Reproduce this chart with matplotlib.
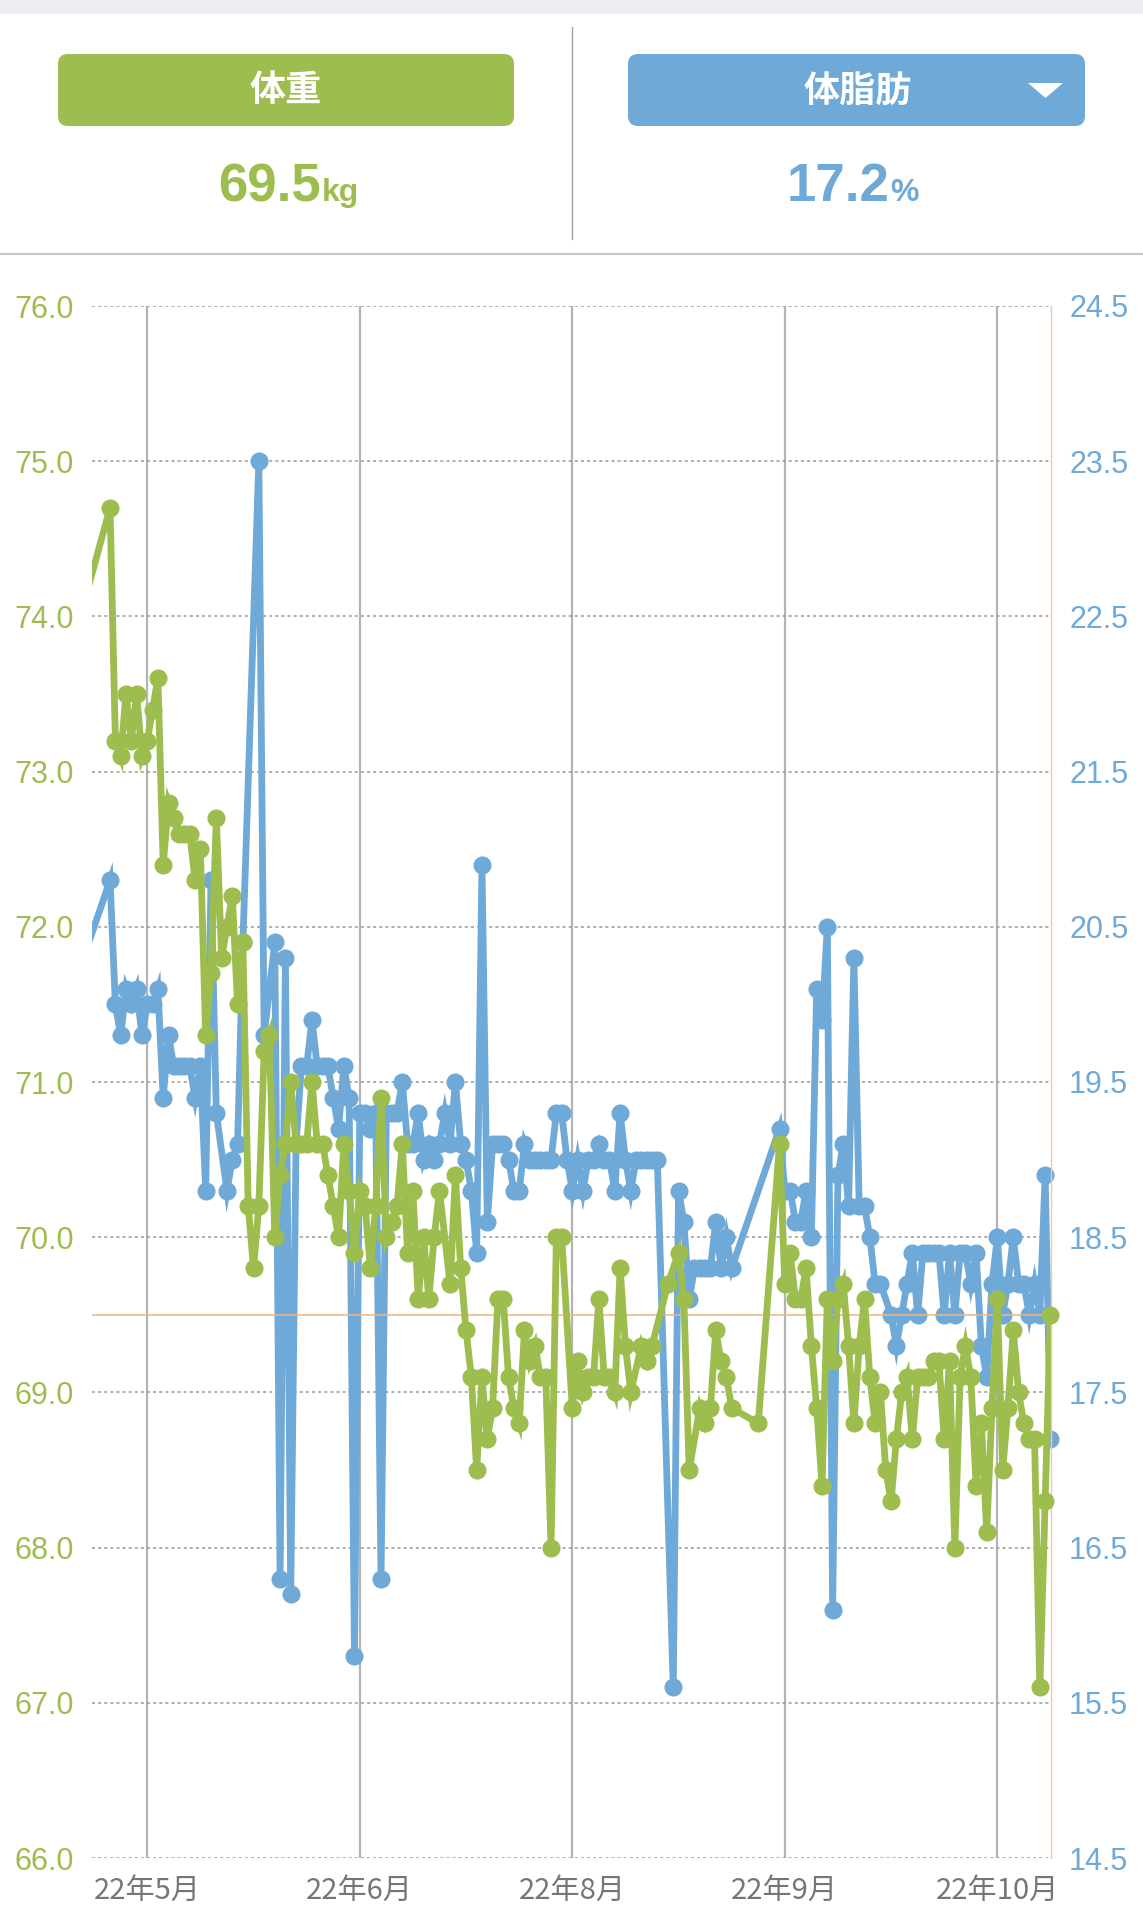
import matplotlib.pyplot as plt
import numpy as np
from matplotlib.patches import FancyBboxPatch, Polygon

plt.rcParams['font.family'] = ['Noto Sans CJK JP', 'DejaVu Sans']

GREEN = '#9dbd4e'
BLUE = '#6fa9d7'
NUM_FONT = 'Liberation Sans'

# x = days counted from the "22年5月" tick
tick_days = [0, 40, 80, 120, 160]
tick_labels = ['22年5月', '22年6月', '22年8月', '22年9月', '22年10月']

weight_days = [-11, -7, -6, -5, -4, -3, -2, -1, 0, 1, 2, 3, 4, 5, 6, 7, 8, 9, 10,
               11, 12, 13, 14, 15, 16, 17, 18, 19, 20, 21, 22, 23, 24, 25, 26, 27,
               28, 29, 30, 31, 32, 33, 34, 35, 36, 37, 38, 39, 40, 41, 42, 43, 44,
               45, 46, 47, 48, 49, 50, 51, 52, 53, 54, 55, 57, 58, 59, 60, 61, 62,
               63, 64, 65, 66, 67, 68, 69, 70, 71, 72, 73, 74, 75, 76, 77, 78, 80,
               81, 82, 83, 84, 85, 86, 87, 88, 89, 90, 91, 93, 94, 95, 98, 100, 101,
               102, 104, 105, 106, 107, 108, 109, 110, 115, 119, 120, 121, 122, 123,
               124, 125, 126, 127, 128, 129, 130, 131, 132, 133, 134, 135, 136, 137,
               138, 139, 140, 141, 142, 143, 144, 145, 146, 147, 148, 149, 150, 151,
               152, 153, 154, 155, 156, 157, 158, 159, 160, 161, 162, 163, 164, 165,
               166, 167, 168, 169, 170]
weight_kg = [74.2, 74.7, 73.2, 73.1, 73.5, 73.2, 73.5, 73.1, 73.2, 73.4, 73.6, 72.4,
             72.8, 72.7, 72.6, 72.6, 72.6, 72.3, 72.5, 71.3, 71.7, 72.7, 71.8, 72.0,
             72.2, 71.5, 71.9, 70.2, 69.8, 70.2, 71.2, 71.3, 70.0, 70.4, 70.6, 71.0,
             70.6, 70.6, 70.6, 71.0, 70.6, 70.6, 70.4, 70.2, 70.0, 70.6, 70.3, 69.9,
             70.3, 70.2, 69.8, 70.2, 70.9, 70.0, 70.1, 70.2, 70.6, 69.9, 70.3, 69.6,
             70.0, 69.6, 70.0, 70.3, 69.7, 70.4, 69.8, 69.4, 69.1, 68.5, 69.1, 68.7,
             68.9, 69.6, 69.6, 69.1, 68.9, 68.8, 69.4, 69.2, 69.3, 69.1, 69.1, 68.0,
             70.0, 70.0, 68.9, 69.2, 69.0, 69.1, 69.1, 69.6, 69.1, 69.1, 69.0, 69.8,
             69.3, 69.0, 69.3, 69.2, 69.3, 69.7, 69.9, 69.6, 68.5, 68.9, 68.8, 68.9,
             69.4, 69.2, 69.1, 68.9, 68.8, 70.6, 69.7, 69.9, 69.6, 69.6, 69.8, 69.3,
             68.9, 68.4, 69.6, 69.2, 69.6, 69.7, 69.3, 68.8, 69.3, 69.6, 69.1, 68.8,
             69.0, 68.5, 68.3, 68.7, 69.0, 69.1, 68.7, 69.1, 69.1, 69.1, 69.2, 69.2,
             68.7, 69.2, 68.0, 69.1, 69.3, 69.1, 68.4, 68.8, 68.1, 68.9, 69.6, 68.5,
             68.9, 69.4, 69.0, 68.8, 68.7, 68.7, 67.1, 68.3, 69.5]

fat_days = [-11, -7, -6, -5, -4, -3, -2, -1, 0, 1, 2, 3, 4, 5, 6, 7, 8, 9, 10, 11,
            12, 13, 15, 16, 17, 18, 21, 22, 24, 25, 26, 27, 28, 29, 30, 31, 32, 33,
            34, 35, 36, 37, 38, 39, 40, 41, 42, 43, 44, 45, 46, 47, 48, 49, 50, 51,
            52, 53, 54, 55, 56, 57, 58, 59, 60, 61, 62, 63, 64, 65, 66, 67, 68, 69,
            70, 71, 72, 73, 74, 75, 76, 77, 78, 79, 80, 81, 82, 83, 84, 85, 86, 87,
            88, 89, 90, 91, 92, 93, 94, 95, 96, 99, 100, 101, 102, 103, 104, 105,
            106, 107, 108, 109, 110, 119, 120, 121, 122, 123, 124, 125, 126, 127,
            128, 129, 130, 131, 132, 133, 134, 135, 136, 137, 138, 140, 141, 142,
            143, 144, 145, 146, 147, 148, 149, 150, 151, 152, 153, 154, 155, 156,
            157, 158, 159, 160, 161, 162, 163, 164, 165, 166, 167, 168, 169, 170]
fat_pct = [20.4, 20.8, 20.0, 19.8, 20.1, 20.0, 20.1, 19.8, 20.0, 20.0, 20.1, 19.4,
           19.8, 19.6, 19.6, 19.6, 19.6, 19.4, 19.6, 18.8, 20.8, 19.3, 18.8, 19.0,
           19.1, 20.4, 23.5, 19.8, 20.4, 16.3, 20.3, 16.2, 19.1, 19.6, 19.6, 19.9,
           19.6, 19.6, 19.6, 19.4, 19.2, 19.6, 19.4, 15.8, 19.3, 19.3, 19.2, 19.3,
           16.3, 19.3, 19.3, 19.3, 19.5, 19.1, 19.1, 19.3, 19.0, 19.1, 19.0, 19.1,
           19.3, 19.1, 19.5, 19.1, 19.0, 18.8, 18.4, 20.9, 18.6, 19.1, 19.1, 19.1,
           19.0, 18.8, 18.8, 19.1, 19.0, 19.0, 19.0, 19.0, 19.0, 19.3, 19.3, 19.0,
           18.8, 19.0, 18.8, 19.0, 19.0, 19.1, 19.0, 19.0, 18.8, 19.3, 19.0, 18.8,
           19.0, 19.0, 19.0, 19.0, 19.0, 15.6, 18.8, 18.6, 18.1, 18.3, 18.3, 18.3,
           18.3, 18.6, 18.3, 18.5, 18.3, 19.2, 18.8, 18.8, 18.6, 18.6, 18.8, 18.5,
           20.1, 19.9, 20.5, 16.1, 18.9, 19.1, 18.7, 20.3, 18.7, 18.7, 18.5, 18.2,
           18.2, 18.0, 17.8, 18.0, 18.2, 18.4, 18.0, 18.4, 18.4, 18.4, 18.4, 18.0,
           18.4, 18.0, 18.4, 18.4, 18.2, 18.4, 17.8, 17.6, 18.2, 18.5, 18.0, 18.2,
           18.5, 18.2, 18.2, 18.0, 18.2, 18.0, 18.9, 17.2]

XMIN, XMAX = -10.4, 170.1

fig = plt.figure(figsize=(11.43, 19.2), dpi=100)

# header drawn in pixel coordinates
bg = fig.add_axes([0, 0, 1, 1])
bg.set_xlim(0, 1143)
bg.set_ylim(1920, 0)
bg.axis('off')
bg.add_patch(plt.Rectangle((0, 0), 1143, 14, color='#ebedf0', lw=0))
bg.plot([0, 1143], [254, 254], color='#c6c6c6', lw=1.5)
bg.plot([572, 572], [27, 239], color='#a0a0a0', lw=1)
bg.add_patch(FancyBboxPatch((58, 54), 456, 72, boxstyle='round,pad=0,rounding_size=10',
                            fc=GREEN, ec='none'))
bg.add_patch(FancyBboxPatch((628, 54), 457, 72, boxstyle='round,pad=0,rounding_size=10',
                            fc=BLUE, ec='none'))
bg.text(286, 91, '体重', color='white', fontsize=26, fontweight='bold', ha='center', va='center')
bg.text(858, 91, '体脂肪', color='white', fontsize=26, fontweight='bold', ha='center', va='center')
bg.add_patch(Polygon([[1028, 83], [1063, 83], [1045.5, 98]], closed=True, fc='white', ec='none'))
bg.text(321, 201, f'{weight_kg[-1]:.1f}', color=GREEN, fontsize=38, fontweight='bold',
        family=NUM_FONT, ha='right', va='baseline')
bg.text(322, 201, 'kg', color=GREEN, fontsize=23, fontweight='bold',
        family=NUM_FONT, ha='left', va='baseline')
bg.text(889, 201, f'{fat_pct[-1]:.1f}', color=BLUE, fontsize=38, fontweight='bold',
        family=NUM_FONT, ha='right', va='baseline')
bg.text(890, 201, '%', color=BLUE, fontsize=23, fontweight='bold',
        family=NUM_FONT, ha='left', va='baseline')

# chart: fat on the lower axes (ticks right), weight drawn on top (ticks left)
ax = fig.add_axes([92 / 1143, 62 / 1920, 959 / 1143, 1552 / 1920])
ax2 = ax.twinx()

ax.set_xlim(XMIN, XMAX)
ax.set_ylim(14.5, 24.5)
ax2.set_ylim(66, 76)

fat_ticks = np.arange(14.5, 24.6, 1.0)
w_ticks = np.arange(66, 76.1, 1.0)
ax.set_yticks(fat_ticks)
ax.set_yticklabels([f'{t:.1f}' for t in fat_ticks], family=NUM_FONT)
ax2.set_yticks(w_ticks)
ax2.set_yticklabels([f'{t:.1f}' for t in w_ticks], family=NUM_FONT)
ax.yaxis.tick_right()
ax2.yaxis.tick_left()
ax.tick_params(axis='y', colors=BLUE, labelsize=22, length=0, pad=13)
ax2.tick_params(axis='y', colors=GREEN, labelsize=22, length=0, pad=13)

ax.set_xticks(tick_days)
ax.set_xticklabels(tick_labels)
ax.tick_params(axis='x', colors='#767676', labelsize=21, length=0, pad=13)

ax.grid(axis='y', color='#9a9a9a', lw=1.1, linestyle=(0, (2, 2)))
ax.grid(axis='x', color='#b4b4b4', lw=1.6, linestyle='-')
ax.set_axisbelow(True)

for a in (ax, ax2):
    for s in a.spines.values():
        s.set_visible(False)
ax2.spines['right'].set_visible(True)
ax2.spines['right'].set_color('#f3c9a2')
ax2.spines['right'].set_linewidth(1)

ax2.axhline(weight_kg[-1], color='#f4b47c', lw=1.1, zorder=0.5)

fd = np.array(fat_days)
fp = np.array(fat_pct)
wd = np.array(weight_days)
wk = np.array(weight_kg)

ax.plot(fd, fp, color=BLUE, lw=4.9, solid_joinstyle='miter', zorder=2)
ax.plot(fd[fd >= XMIN], fp[fd >= XMIN], 'o', color=BLUE, ms=12, clip_on=False, zorder=3)
ax2.plot(wd, wk, color=GREEN, lw=4.9, solid_joinstyle='miter', zorder=2)
ax2.plot(wd[wd >= XMIN], wk[wd >= XMIN], 'o', color=GREEN, ms=12, clip_on=False, zorder=3)

fig.savefig('out.png', dpi=100)
